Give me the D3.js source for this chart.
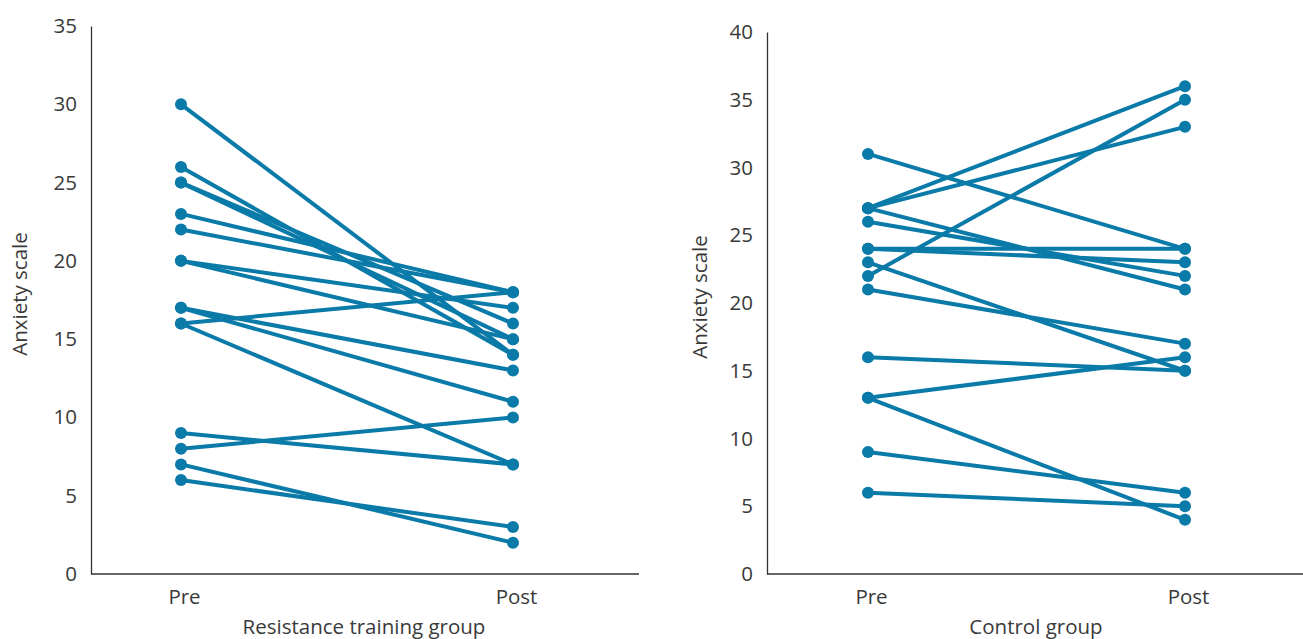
<!DOCTYPE html>
<html>
<head>
<meta charset="utf-8">
<script src="https://cdn.jsdelivr.net/npm/d3@7"></script>
<style>
  body { margin: 0; background: #fff; }
  text { font-family: "Open Sans", "Liberation Sans", sans-serif; fill: #3a3a3a; }
</style>
</head>
<body>
<svg id="chart" width="1303" height="639"></svg>
<script>
const times = ["Pre", "Post"];

// resistance training group: [pre, post] per participant
const resistancePre  = [30, 26, 25, 25, 23, 22, 20, 20, 17, 17, 16, 16, 9, 8, 7, 6];
const resistancePost = [14, 14, 15, 16, 18, 18, 17, 15, 13, 11, 18, 7, 7, 10, 2, 3];
const resistanceTicks = [0, 5, 10, 15, 20, 25, 30, 35];

// control group
const controlPre  = [31, 27, 27, 27, 26, 24, 24, 23, 22, 21, 16, 13, 13, 9, 6];
const controlPost = [24, 36, 33, 21, 22, 24, 23, 15, 35, 17, 15, 16, 4, 6, 5];
const controlTicks = [0, 5, 10, 15, 20, 25, 30, 35, 40];

const svg = d3.select("#chart");
const blue = "#0a7aa8";
const fontSize = "20.5px";

function panel(opts) {
  const { pre, post, ticks, yMax, axisX, axisRight, top, bottom, xRange, title, titleX, labelX } = opts;

  const x = d3.scalePoint().domain(times).range(xRange);
  const y = d3.scaleLinear().domain([0, yMax]).range([bottom, top]);

  const g = svg.append("g");

  // y axis: plain line with labels, no tick marks
  const yAxis = g.append("g")
    .attr("transform", `translate(${axisX},0)`)
    .call(d3.axisLeft(y).tickValues(ticks).tickSize(0).tickPadding(14));
  yAxis.select(".domain").attr("stroke", "#333").attr("stroke-width", 1.3);
  yAxis.selectAll("text").style("font-size", fontSize).attr("fill", "#3a3a3a")
    .style("font-family", "'Open Sans', sans-serif");

  g.append("line")
    .attr("x1", axisX).attr("x2", axisRight)
    .attr("y1", bottom).attr("y2", bottom)
    .attr("stroke", "#333").attr("stroke-width", 1.3);

  const xAxis = g.append("g")
    .attr("transform", `translate(0,${bottom})`)
    .call(d3.axisBottom(x).tickSize(0).tickPadding(15));
  xAxis.select(".domain").remove();
  xAxis.selectAll("text").style("font-size", fontSize).attr("fill", "#3a3a3a")
    .attr("dx", 3)
    .style("font-family", "'Open Sans', sans-serif");

  const pairs = pre.map((p, i) => ({ pre: p, post: post[i] }));

  g.selectAll("line.pair")
    .data(pairs)
    .enter()
    .append("line")
    .attr("class", "pair")
    .attr("x1", x("Pre")).attr("y1", d => y(d.pre))
    .attr("x2", x("Post")).attr("y2", d => y(d.post))
    .attr("stroke", blue).attr("stroke-width", 4);

  const dots = pairs.flatMap(d => [{ t: "Pre", v: d.pre }, { t: "Post", v: d.post }]);
  g.selectAll("circle")
    .data(dots)
    .enter()
    .append("circle")
    .attr("cx", d => x(d.t))
    .attr("cy", d => y(d.v))
    .attr("r", 6)
    .attr("fill", blue);

  g.append("text")
    .attr("transform", "rotate(-90)")
    .attr("x", -(top + bottom) / 2 + 6)
    .attr("y", labelX)
    .attr("text-anchor", "middle")
    .style("font-size", fontSize)
    .text("Anxiety scale");

  g.append("text")
    .attr("x", titleX)
    .attr("y", bottom + 60)
    .attr("text-anchor", "middle")
    .style("font-size", fontSize)
    .text(title);
}

panel({
  pre: resistancePre, post: resistancePost, ticks: resistanceTicks, yMax: 35,
  axisX: 91, axisRight: 639, top: 26, bottom: 574, xRange: [181, 513],
  title: "Resistance training group", titleX: 364, labelX: 27
});

panel({
  pre: controlPre, post: controlPost, ticks: controlTicks, yMax: 40,
  axisX: 767, axisRight: 1303, top: 32, bottom: 574, xRange: [868, 1185],
  title: "Control group", titleX: 1036, labelX: 707
});
</script>
</body>
</html>
